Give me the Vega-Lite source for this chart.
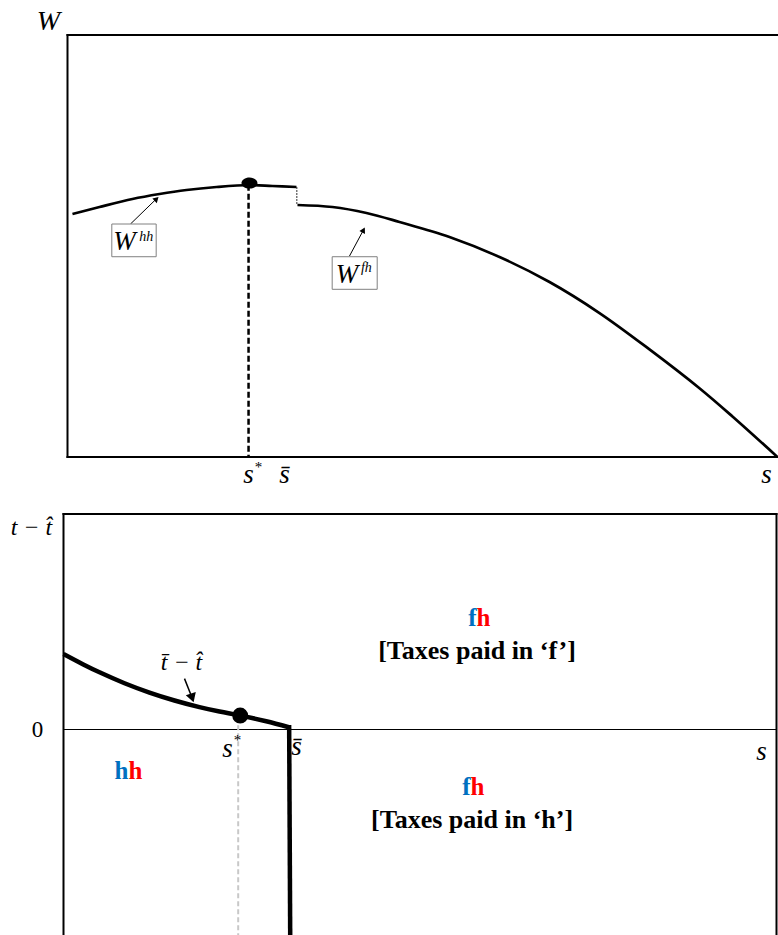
{
  "$schema": "https://vega.github.io/schema/vega-lite/v6.json",
  "background": "white",
  "padding": {"left": 10.5, "top": 7, "right": 0, "bottom": 0},
  "autosize": {"type": "pad"},
  "bounds": "flush",
  "spacing": 57,
  "config": {"view": {"stroke": null}, "font": "Liberation Serif", "text": {"font": "Liberation Serif"}},
  "datasets": {
    "top_frame": [
      {"x": 0, "y": 0, "x2": 0, "y2": 100},
      {"x": 0, "y": 100, "x2": 100, "y2": 100},
      {"x": 0, "y": 0, "x2": 100, "y2": 0}
    ],
    "top_curves": [
      {"series": "Whh", "x": 0.70, "y": 57.58},
      {"series": "Whh", "x": 4.51, "y": 59.24},
      {"series": "Whh", "x": 9.15, "y": 61.14},
      {"series": "Whh", "x": 12.96, "y": 62.32},
      {"series": "Whh", "x": 16.76, "y": 63.27},
      {"series": "Whh", "x": 20.99, "y": 63.98},
      {"series": "Whh", "x": 25.63, "y": 64.45},
      {"series": "Whh", "x": 28.87, "y": 64.22},
      {"series": "Whh", "x": 32.25, "y": 63.98},
      {"series": "Wfh", "x": 32.39, "y": 59.72},
      {"series": "Wfh", "x": 37.32, "y": 59.24},
      {"series": "Wfh", "x": 42.11, "y": 57.82},
      {"series": "Wfh", "x": 46.76, "y": 55.69},
      {"series": "Wfh", "x": 53.80, "y": 52.13},
      {"series": "Wfh", "x": 60.85, "y": 47.39},
      {"series": "Wfh", "x": 67.89, "y": 41.47},
      {"series": "Wfh", "x": 74.93, "y": 34.12},
      {"series": "Wfh", "x": 81.97, "y": 25.5},
      {"series": "Wfh", "x": 89.01, "y": 16.3},
      {"series": "Wfh", "x": 93.66, "y": 9.6},
      {"series": "Wfh", "x": 100, "y": 0}
    ],
    "top_sstar_line": [{"x": 25.5, "y": 64.5, "x2": 25.5, "y2": 0}],
    "top_jump": [{"x": 32.3, "y": 63.98, "x2": 32.3, "y2": 59.72}],
    "top_dot": [{"x": 25.63, "y": 64.93}],
    "top_boxes": [
      {"x": 6.24, "x2": 12.49, "y": 55.21, "y2": 47.46},
      {"x": 37.28, "x2": 43.62, "y": 47.46, "y2": 39.74}
    ],
    "top_box_main": [
      {"x": 8.03, "y": 51.0, "label": "W"},
      {"x": 39.37, "y": 43.1, "label": "W"}
    ],
    "top_box_sup": [
      {"x": 11.1, "y": 52.2, "label": "hh"},
      {"x": 42.1, "y": 44.9, "label": "fh"}
    ],
    "top_arrows": [
      {"x": 8.87, "y": 55.21, "x2": 12.6, "y2": 61.3},
      {"x": 39.72, "y": 47.63, "x2": 41.75, "y2": 54.0}
    ],
    "top_head_hh": [{"x": 12.54, "y": 61.14}],
    "top_head_fh": [{"x": 41.69, "y": 53.79}],
    "top_axis_title": [{"x": -2.68, "y": 103.1, "label": "W"}],
    "top_s_labels": [
      {"x": 25.49, "y": -6.16, "label": "s"},
      {"x": 30.56, "y": -6.16, "label": "s̄"},
      {"x": 98.45, "y": -6.16, "label": "s"}
    ],
    "top_star": [{"x": 26.9, "y": -3.55, "label": "*"}],
    "bot_frame": [
      {"x": 0, "y": 100.47, "x2": 100, "y2": 100.47},
      {"x": 0, "y": -100, "x2": 0, "y2": 100.47},
      {"x": 100, "y": -100, "x2": 100, "y2": 100.47}
    ],
    "bot_zero": [{"x": 0, "y": 0, "x2": 100, "y2": 0}],
    "bot_curve": [
      {"x": 0, "y": 35.2},
      {"x": 2.71, "y": 30.46},
      {"x": 5.05, "y": 26.67},
      {"x": 8.56, "y": 21.58},
      {"x": 12.06, "y": 17.21},
      {"x": 15.57, "y": 13.52},
      {"x": 19.07, "y": 10.44},
      {"x": 21.88, "y": 8.36},
      {"x": 24.78, "y": 6.51},
      {"x": 28.43, "y": 3.86},
      {"x": 31.6, "y": 1.07}
    ],
    "bot_drop": [{"x": 31.65, "y": 1.07, "x2": 31.8, "y2": -100}],
    "bot_sstar_line": [{"x": 24.5, "y": 2, "x2": 24.5, "y2": -100}],
    "bot_dot": [{"x": 24.78, "y": 6.51}],
    "bot_arrow": [{"x": 16.97, "y": 23.72, "x2": 17.95, "y2": 15.5}],
    "bot_head": [{"x": 18.05, "y": 14.74}],
    "bot_math": [
      {"x": -4.5, "y": 94, "label": "t − t̂"},
      {"x": 16.55, "y": 31.16, "label": "t̄ − t̂"}
    ],
    "bot_zero_label": [{"x": -3.65, "y": 0, "label": "0"}],
    "bot_s_labels": [
      {"x": 22.99, "y": -13.0, "label": "s"},
      {"x": 32.68, "y": -12.1, "label": "s̄"},
      {"x": 97.9, "y": -14.4, "label": "s"}
    ],
    "bot_star": [{"x": 24.4, "y": -7.44, "label": "*"}],
    "bot_regimes": [
      {"x": 9.12, "y": -19.5, "first": "h", "second": "h"},
      {"x": 57.92, "y": 52.1, "first": "f", "second": "h"},
      {"x": 57.08, "y": -27, "first": "f", "second": "h"}
    ],
    "bot_taxes": [
      {"x": 58.0, "y": 36.7, "label": "[Taxes paid in ‘f’]"},
      {"x": 57.3, "y": -42.3, "label": "[Taxes paid in ‘h’]"}
    ]
  },
  "vconcat": [
    {
      "width": 714,
      "height": 422,
      "encoding": {
        "x": {"field": "x", "type": "quantitative", "scale": {"domain": [-0.563, 100], "nice": false, "zero": false}, "axis": null},
        "y": {"field": "y", "type": "quantitative", "scale": {"domain": [0, 100], "nice": false, "zero": false}, "axis": null}
      },
      "layer": [
        {"data": {"name": "top_frame"}, "mark": {"type": "rule", "color": "black", "strokeWidth": 2, "strokeCap": "square"}, "encoding": {"x2": {"field": "x2"}, "y2": {"field": "y2"}}},
        {"data": {"name": "top_sstar_line"}, "mark": {"type": "rule", "color": "black", "strokeWidth": 2.5, "strokeDash": [6, 3]}, "encoding": {"x2": {"field": "x2"}, "y2": {"field": "y2"}}},
        {"data": {"name": "top_jump"}, "mark": {"type": "rule", "color": "#333", "strokeWidth": 1, "strokeDash": [2, 1]}, "encoding": {"x2": {"field": "x2"}, "y2": {"field": "y2"}}},
        {"data": {"name": "top_curves"}, "mark": {"type": "line", "color": "black", "strokeWidth": 2.7, "interpolate": "catmull-rom"}, "encoding": {"detail": {"field": "series"}}},
        {"data": {"name": "top_dot"}, "mark": {"type": "point", "filled": true, "color": "black", "opacity": 1, "size": 256, "shape": "M -1 0 A 1 0.7 0 1 1 1 0 A 1 0.7 0 1 1 -1 0 Z"}, "encoding": {}},
        {"data": {"name": "top_arrows"}, "mark": {"type": "rule", "color": "black", "strokeWidth": 1}, "encoding": {"x2": {"field": "x2"}, "y2": {"field": "y2"}}},
        {"data": {"name": "top_head_hh"}, "mark": {"type": "point", "shape": "triangle-up", "filled": true, "color": "black", "opacity": 1, "size": 40, "angle": 46}, "encoding": {}},
        {"data": {"name": "top_head_fh"}, "mark": {"type": "point", "shape": "triangle-up", "filled": true, "color": "black", "opacity": 1, "size": 40, "angle": 28}, "encoding": {}},
        {"data": {"name": "top_boxes"}, "mark": {"type": "rect", "fill": "white", "stroke": "#808080", "strokeWidth": 1}, "encoding": {"x2": {"field": "x2"}, "y2": {"field": "y2"}}},
        {"data": {"name": "top_box_main"}, "mark": {"type": "text", "fontSize": 27, "fontStyle": "italic", "color": "black", "baseline": "middle", "align": "center"}, "encoding": {"text": {"field": "label"}}},
        {"data": {"name": "top_box_sup"}, "mark": {"type": "text", "fontSize": 14, "fontStyle": "italic", "color": "black", "baseline": "middle", "align": "center"}, "encoding": {"text": {"field": "label"}}},
        {"data": {"name": "top_axis_title"}, "mark": {"type": "text", "fontSize": 28, "fontStyle": "italic", "color": "black", "baseline": "middle", "align": "center"}, "encoding": {"text": {"field": "label"}}},
        {"data": {"name": "top_s_labels"}, "mark": {"type": "text", "fontSize": 27, "fontStyle": "italic", "color": "black", "baseline": "alphabetic", "align": "center"}, "encoding": {"text": {"field": "label"}}},
        {"data": {"name": "top_star"}, "mark": {"type": "text", "fontSize": 15, "color": "black", "baseline": "alphabetic", "align": "center"}, "encoding": {"text": {"field": "label"}}}
      ]
    },
    {
      "width": 713,
      "height": 430,
      "encoding": {
        "x": {"field": "x", "type": "quantitative", "scale": {"domain": [0, 100], "nice": false, "zero": false}, "axis": null},
        "y": {"field": "y", "type": "quantitative", "scale": {"domain": [-100, 100.47], "nice": false, "zero": false}, "axis": null}
      },
      "layer": [
        {"data": {"name": "bot_frame"}, "mark": {"type": "rule", "color": "black", "strokeWidth": 2, "strokeCap": "square"}, "encoding": {"x2": {"field": "x2"}, "y2": {"field": "y2"}}},
        {"data": {"name": "bot_zero"}, "mark": {"type": "rule", "color": "black", "strokeWidth": 1}, "encoding": {"x2": {"field": "x2"}, "y2": {"field": "y2"}}},
        {"data": {"name": "bot_sstar_line"}, "mark": {"type": "rule", "color": "#c8c8c8", "strokeWidth": 2, "strokeDash": [5, 3]}, "encoding": {"x2": {"field": "x2"}, "y2": {"field": "y2"}}},
        {"data": {"name": "bot_curve"}, "mark": {"type": "line", "color": "black", "strokeWidth": 4.5, "interpolate": "catmull-rom"}, "encoding": {}},
        {"data": {"name": "bot_drop"}, "mark": {"type": "rule", "color": "black", "strokeWidth": 4.5, "strokeCap": "square"}, "encoding": {"x2": {"field": "x2"}, "y2": {"field": "y2"}}},
        {"data": {"name": "bot_dot"}, "mark": {"type": "point", "shape": "circle", "filled": true, "color": "black", "opacity": 1, "size": 254}, "encoding": {}},
        {"data": {"name": "bot_arrow"}, "mark": {"type": "rule", "color": "black", "strokeWidth": 1.5}, "encoding": {"x2": {"field": "x2"}, "y2": {"field": "y2"}}},
        {"data": {"name": "bot_head"}, "mark": {"type": "point", "shape": "triangle-up", "filled": true, "color": "black", "opacity": 1, "size": 110, "angle": 162}, "encoding": {}},
        {"data": {"name": "bot_math"}, "mark": {"type": "text", "fontSize": 24, "fontStyle": "italic", "color": "black", "baseline": "middle", "align": "center"}, "encoding": {"text": {"field": "label"}}},
        {"data": {"name": "bot_zero_label"}, "mark": {"type": "text", "fontSize": 23, "color": "black", "baseline": "middle", "align": "center"}, "encoding": {"text": {"field": "label"}}},
        {"data": {"name": "bot_s_labels"}, "mark": {"type": "text", "fontSize": 27, "fontStyle": "italic", "color": "black", "baseline": "alphabetic", "align": "center"}, "encoding": {"text": {"field": "label"}}},
        {"data": {"name": "bot_star"}, "mark": {"type": "text", "fontSize": 15, "color": "black", "baseline": "alphabetic", "align": "center"}, "encoding": {"text": {"field": "label"}}},
        {"data": {"name": "bot_regimes"}, "mark": {"type": "text", "fontSize": 25, "fontWeight": "bold", "color": "#0070C0", "baseline": "middle", "align": "right"}, "encoding": {"text": {"field": "first"}}},
        {"data": {"name": "bot_regimes"}, "mark": {"type": "text", "fontSize": 25, "fontWeight": "bold", "color": "#FF0000", "baseline": "middle", "align": "left"}, "encoding": {"text": {"field": "second"}}},
        {"data": {"name": "bot_taxes"}, "mark": {"type": "text", "fontSize": 26, "fontWeight": "bold", "color": "black", "baseline": "middle", "align": "center"}, "encoding": {"text": {"field": "label"}}}
      ]
    }
  ]
}
